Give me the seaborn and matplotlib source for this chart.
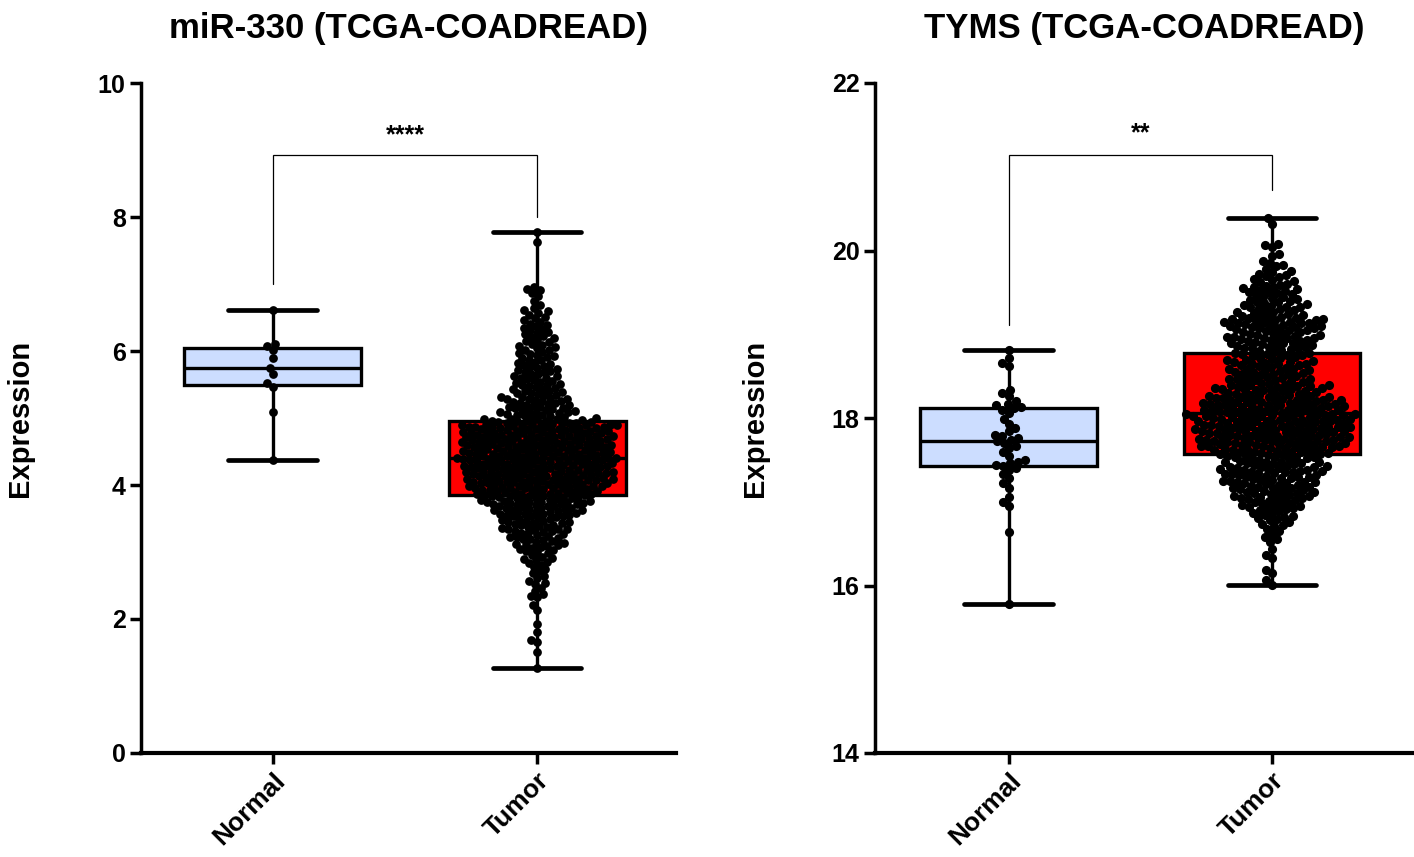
import matplotlib
matplotlib.use("Agg")
import matplotlib.pyplot as plt
import numpy as np
import pandas as pd
import seaborn as sns

groups = ["Normal", "Tumor"]
titles = ["miR-330 (TCGA-COADREAD)", "TYMS (TCGA-COADREAD)"]
ylabel_text = "Expression"
sig_labels = ["****", "**"]
mir_yticks = [0, 2, 4, 6, 8, 10]
tyms_yticks = [14, 16, 18, 20, 22]
# bracket: left leg bottom, bar height, right leg bottom, star baseline
mir_bracket = [7.0, 8.93, 8.0, 9.12]
tyms_bracket = [19.11, 21.14, 20.72, 21.31]

mir_normal = [6.61, 6.11, 6.08, 6.02, 5.89, 5.74, 5.65, 5.52, 5.46, 5.09, 4.37]

mir_tumor = [
    7.77, 7.62,
    6.95, 6.93, 6.91, 6.86, 6.82, 6.74,
    6.68, 6.64, 6.61, 6.59, 6.57, 6.54, 6.51,
    6.49, 6.46, 6.44, 6.41, 6.39, 6.37, 6.35, 6.33, 6.31,
    6.29, 6.27, 6.25, 6.23, 6.21, 6.19, 6.17, 6.15, 6.13, 6.11,
    6.09, 6.07, 6.06, 6.04, 6.02, 6.01, 5.99, 5.97, 5.96, 5.94, 5.92, 5.91,
    5.89, 5.87, 5.86, 5.84, 5.82, 5.81, 5.79, 5.78, 5.76, 5.75, 5.73, 5.72, 5.70,
    5.69, 5.68, 5.66, 5.65, 5.63, 5.62, 5.60,
    5.59, 5.58, 5.57, 5.55, 5.54, 5.52, 5.51, 5.50,
    5.49, 5.48, 5.47, 5.45, 5.44, 5.43, 5.41, 5.40,
    5.39, 5.38, 5.37, 5.36, 5.35, 5.34, 5.32, 5.31, 5.30,
    5.29, 5.29, 5.28, 5.27, 5.26, 5.25, 5.24, 5.23, 5.22, 5.21, 5.20,
    5.19, 5.18, 5.17, 5.16, 5.15, 5.15, 5.14, 5.13, 5.12, 5.11, 5.10,
    5.09, 5.09, 5.08, 5.07, 5.06, 5.05, 5.04, 5.04, 5.03, 5.02, 5.01, 5.00,
    4.99, 4.99, 4.98, 4.98, 4.97, 4.96, 4.96, 4.95, 4.95, 4.94,
    4.94, 4.93, 4.93, 4.92, 4.92, 4.91, 4.91, 4.90, 4.90, 4.90,
    4.89, 4.89, 4.89, 4.88, 4.88, 4.87, 4.87, 4.87, 4.86, 4.86, 4.85, 4.85,
    4.85, 4.84, 4.84, 4.83, 4.83, 4.83, 4.82, 4.82, 4.81, 4.81, 4.80, 4.80,
    4.79, 4.79, 4.79, 4.78, 4.78, 4.77, 4.77, 4.77, 4.76, 4.76, 4.75, 4.75, 4.75,
    4.74, 4.74, 4.73, 4.73, 4.73, 4.72, 4.72, 4.71, 4.71, 4.71, 4.70, 4.70,
    4.69, 4.69, 4.69, 4.68, 4.68, 4.67, 4.67, 4.67, 4.66, 4.66, 4.65, 4.65, 4.65,
    4.64, 4.64, 4.63, 4.63, 4.63, 4.62, 4.62, 4.61, 4.61, 4.61, 4.60, 4.60,
    4.59, 4.59, 4.59, 4.58, 4.58, 4.57, 4.57, 4.57, 4.56, 4.56, 4.55, 4.55, 4.55,
    4.54, 4.54, 4.53, 4.53, 4.53, 4.52, 4.52, 4.51, 4.51, 4.51, 4.50, 4.50,
    4.49, 4.49, 4.49, 4.48, 4.48, 4.47, 4.47, 4.47, 4.46, 4.46, 4.45, 4.45, 4.45,
    4.44, 4.44, 4.43, 4.43, 4.43, 4.42, 4.42, 4.41, 4.41, 4.41, 4.40, 4.40,
    4.39, 4.39, 4.39, 4.38, 4.38, 4.37, 4.37, 4.37, 4.36, 4.36, 4.35, 4.35, 4.35,
    4.34, 4.34, 4.33, 4.33, 4.33, 4.32, 4.32, 4.31, 4.31, 4.31, 4.30, 4.30,
    4.29, 4.29, 4.29, 4.28, 4.28, 4.27, 4.27, 4.27, 4.26, 4.26, 4.25, 4.25,
    4.25, 4.24, 4.24, 4.23, 4.23, 4.23, 4.22, 4.22, 4.21, 4.21, 4.20, 4.20,
    4.19, 4.19, 4.19, 4.18, 4.18, 4.17, 4.17, 4.17, 4.16, 4.16, 4.15, 4.15,
    4.15, 4.14, 4.14, 4.13, 4.13, 4.13, 4.12, 4.12, 4.11, 4.11, 4.10, 4.10,
    4.09, 4.09, 4.09, 4.08, 4.08, 4.07, 4.07, 4.07, 4.06, 4.06, 4.05, 4.05,
    4.05, 4.04, 4.04, 4.03, 4.03, 4.03, 4.02, 4.02, 4.01, 4.01, 4.00, 4.00,
    3.99, 3.99, 3.98, 3.98, 3.98, 3.97, 3.97, 3.96, 3.96, 3.95, 3.95,
    3.95, 3.94, 3.94, 3.93, 3.93, 3.92, 3.92, 3.91, 3.91, 3.90, 3.90,
    3.89, 3.89, 3.88, 3.88, 3.87, 3.87, 3.86, 3.86, 3.85, 3.85,
    3.84, 3.84, 3.83, 3.83, 3.82, 3.82, 3.81, 3.81, 3.80, 3.80,
    3.79, 3.78, 3.78, 3.77, 3.76, 3.76, 3.75, 3.75, 3.74, 3.74,
    3.73, 3.73, 3.72, 3.72, 3.71, 3.70, 3.70,
    3.69, 3.68, 3.68, 3.67, 3.66, 3.66, 3.65, 3.64, 3.64, 3.63,
    3.62, 3.62, 3.61, 3.60, 3.60,
    3.59, 3.58, 3.57, 3.57, 3.56, 3.55, 3.55, 3.54, 3.53, 3.53, 3.52, 3.51, 3.50,
    3.49, 3.48, 3.47, 3.46, 3.45, 3.45, 3.44, 3.43, 3.42, 3.41, 3.40,
    3.39, 3.38, 3.37, 3.36, 3.35, 3.35, 3.34, 3.33, 3.32, 3.31, 3.30,
    3.29, 3.28, 3.27, 3.25, 3.24, 3.23, 3.22, 3.21, 3.20,
    3.19, 3.18, 3.16, 3.15, 3.13, 3.12, 3.11, 3.10,
    3.09, 3.08, 3.06, 3.04, 3.03, 3.01, 3.00,
    2.98, 2.95, 2.93, 2.91, 2.90, 2.88, 2.85, 2.83, 2.81,
    2.78, 2.74, 2.71, 2.68, 2.64, 2.61, 2.57, 2.54, 2.52,
    2.47, 2.42, 2.37, 2.35, 2.33, 2.21, 2.14,
    1.93, 1.81, 1.69, 1.66, 1.51, 1.27,
]

tyms_normal = [
    15.78, 16.64, 16.95, 17.00, 17.06, 17.17, 17.22, 17.28, 17.33, 17.38,
    17.40, 17.43, 17.44, 17.46, 17.48, 17.50, 17.55, 17.60, 17.64, 17.67,
    17.70, 17.72, 17.74, 17.76, 17.78, 17.80, 17.84, 17.88, 17.93, 17.99,
    18.06, 18.10, 18.12, 18.13, 18.15, 18.17, 18.20, 18.26, 18.30, 18.34,
    18.62, 18.66, 18.72, 18.81,
]

tyms_tumor = [
    20.39, 20.32, 20.08, 20.06, 20.04, 19.96, 19.93,
    19.88, 19.85, 19.83, 19.81, 19.78, 19.76, 19.74, 19.72, 19.71,
    19.69, 19.68, 19.66, 19.65, 19.63, 19.62, 19.60,
    19.59, 19.58, 19.57, 19.56, 19.55, 19.54, 19.53, 19.52, 19.51, 19.50,
    19.49, 19.48, 19.47, 19.45, 19.44, 19.43, 19.42, 19.41, 19.40,
    19.39, 19.38, 19.37, 19.36, 19.35, 19.34, 19.33, 19.33, 19.32, 19.31, 19.30,
    19.29, 19.28, 19.27, 19.26, 19.25, 19.24, 19.23, 19.22, 19.22, 19.21, 19.20,
    19.19, 19.19, 19.18, 19.18, 19.17, 19.17, 19.16, 19.15, 19.15,
    19.14, 19.14, 19.13, 19.13, 19.12, 19.11, 19.11, 19.10, 19.10,
    19.09, 19.09, 19.08, 19.07, 19.07, 19.06, 19.05, 19.05, 19.04, 19.03, 19.03, 19.02, 19.01, 19.00,
    18.99, 18.99, 18.98, 18.97, 18.97, 18.96, 18.96, 18.95, 18.95, 18.94, 18.93, 18.93, 18.92, 18.92, 18.91, 18.90,
    18.89, 18.89, 18.88, 18.87, 18.87, 18.86, 18.85, 18.85, 18.84, 18.83, 18.83, 18.82, 18.81, 18.80,
    18.79, 18.78, 18.78, 18.77, 18.76, 18.75, 18.75, 18.74, 18.73, 18.72, 18.72, 18.71,
    18.69, 18.69, 18.68, 18.67, 18.67, 18.66, 18.65, 18.65, 18.64, 18.63, 18.63, 18.62, 18.61, 18.60,
    18.59, 18.59, 18.58, 18.57, 18.57, 18.56, 18.55, 18.55, 18.54, 18.53, 18.53, 18.52, 18.51, 18.50,
    18.49, 18.49, 18.48, 18.47, 18.47, 18.46, 18.45, 18.45, 18.44, 18.43, 18.43, 18.42, 18.41, 18.40, 18.40,
    18.39, 18.39, 18.38, 18.38, 18.37, 18.37, 18.36, 18.36, 18.35, 18.35,
    18.34, 18.34, 18.33, 18.33, 18.32, 18.32, 18.31, 18.30,
    18.29, 18.29, 18.28, 18.28, 18.27, 18.27, 18.26, 18.26, 18.25, 18.25, 18.25,
    18.24, 18.24, 18.23, 18.23, 18.22, 18.22, 18.22, 18.21, 18.21, 18.20, 18.20,
    18.19, 18.19, 18.19, 18.18, 18.18, 18.17, 18.17, 18.17, 18.16, 18.16, 18.15, 18.15, 18.15,
    18.14, 18.14, 18.13, 18.13, 18.13, 18.12, 18.12, 18.11, 18.11, 18.11, 18.10, 18.10,
    18.09, 18.09, 18.09, 18.08, 18.08, 18.07, 18.07, 18.07, 18.06, 18.06, 18.05, 18.05, 18.05, 18.05,
    18.04, 18.04, 18.03, 18.03, 18.03, 18.02, 18.02, 18.02, 18.01, 18.01, 18.01, 18.00, 18.00,
    17.99, 17.99, 17.99, 17.98, 17.98, 17.98, 17.97, 17.97, 17.97, 17.96, 17.96, 17.96, 17.95, 17.95,
    17.94, 17.94, 17.94, 17.93, 17.93, 17.92, 17.92, 17.92, 17.91, 17.91, 17.90, 17.90, 17.90,
    17.89, 17.89, 17.89, 17.88, 17.88, 17.88, 17.87, 17.87, 17.87, 17.86, 17.86, 17.86, 17.85, 17.85,
    17.84, 17.84, 17.84, 17.83, 17.83, 17.82, 17.82, 17.82, 17.81, 17.81, 17.80, 17.80, 17.80,
    17.79, 17.79, 17.79, 17.78, 17.78, 17.77, 17.77, 17.77, 17.76, 17.76, 17.75, 17.75, 17.75,
    17.74, 17.74, 17.74, 17.73, 17.73, 17.72, 17.72, 17.72, 17.71, 17.71, 17.70, 17.70, 17.70,
    17.69, 17.69, 17.69, 17.68, 17.68, 17.67, 17.67, 17.67, 17.66, 17.66, 17.65, 17.65,
    17.65, 17.64, 17.64, 17.63, 17.63, 17.63, 17.62, 17.62, 17.61, 17.61, 17.60, 17.60,
    17.59, 17.59, 17.58, 17.58, 17.57, 17.57, 17.56, 17.56, 17.55, 17.55,
    17.54, 17.54, 17.53, 17.53, 17.52, 17.52, 17.51, 17.50,
    17.49, 17.48, 17.48, 17.47, 17.47, 17.46, 17.46, 17.45, 17.45,
    17.44, 17.43, 17.43, 17.42, 17.42, 17.41, 17.40, 17.40,
    17.39, 17.39, 17.38, 17.38, 17.37, 17.37, 17.36, 17.36, 17.35,
    17.34, 17.34, 17.33, 17.33, 17.32, 17.32, 17.31, 17.30, 17.30,
    17.29, 17.28, 17.28, 17.27, 17.26, 17.26, 17.25, 17.25,
    17.24, 17.23, 17.23, 17.22, 17.22, 17.21, 17.20, 17.20,
    17.19, 17.18, 17.18, 17.17, 17.16, 17.16, 17.15, 17.14, 17.14,
    17.13, 17.12, 17.12, 17.11, 17.10, 17.10,
    17.09, 17.08, 17.07, 17.07, 17.06, 17.05, 17.05, 17.04, 17.03, 17.03, 17.02, 17.01, 17.00,
    16.99, 16.98, 16.97, 16.96, 16.95, 16.95, 16.94, 16.93, 16.92, 16.91, 16.90,
    16.89, 16.87, 16.86, 16.84, 16.83, 16.82, 16.81, 16.80,
    16.78, 16.76, 16.74, 16.72, 16.71, 16.68, 16.65, 16.62, 16.58, 16.55, 16.52,
    16.44, 16.37, 16.33, 16.19, 16.15, 16.06, 16.01,
]

normal_color = "#CCDDFF"
tumor_color = "#FF0000"

sns.set_theme(style="ticks")
plt.rcParams["font.family"] = ["Liberation Sans", "DejaVu Sans"]
plt.rcParams.update({
    "text.color": "black", "axes.labelcolor": "black", "axes.edgecolor": "black",
    "xtick.color": "black", "ytick.color": "black",
})

W, H = 1414, 857
fig = plt.figure(figsize=(W / 100, H / 100), dpi=100)
ax1 = fig.add_axes([141 / W, 104 / H, 535 / W, 670 / H])
ax2 = fig.add_axes([875 / W, 104 / H, 538 / W, 670 / H])


def panel(ax, normal, tumor, yticks, title, sig, br, xlim, ylab_x, layout_size):
    df = pd.DataFrame({
        "group": [groups[0]] * len(normal) + [groups[1]] * len(tumor),
        "value": list(normal) + list(tumor),
    })
    sns.boxplot(data=df, x="group", y="value", hue="group", order=groups,
                hue_order=groups, palette={groups[0]: normal_color, groups[1]: tumor_color},
                saturation=1, width=0.67, whis=(0, 100), showfliers=False,
                linewidth=2.4, linecolor="black", legend=False, ax=ax,
                capprops={"linewidth": 3.4})
    sns.swarmplot(data=df, x="group", y="value", order=groups, color="black",
                  size=layout_size, linewidth=0, zorder=3, ax=ax, warn_thresh=1)
    ax.set_ylim(yticks[0], yticks[-1])
    ax.set_xlim(*xlim)
    ax.set_yticks(yticks)
    ax.set_yticklabels([str(t) for t in yticks], fontweight="bold", fontsize=18)
    ax.set_xticks([0, 1])
    ax.set_xticklabels(groups, rotation=45, ha="right", rotation_mode="anchor",
                       fontweight="bold", fontsize=19)
    ax.set_xlabel("")
    ax.set_ylabel(ylabel_text, fontweight="bold", fontsize=21)
    ax.yaxis.set_label_coords(ylab_x, 0.5)
    for s in ["top", "right"]:
        ax.spines[s].set_visible(False)
    ax.spines["left"].set_linewidth(2.5)
    ax.spines["bottom"].set_linewidth(3.0)
    ax.tick_params(axis="both", direction="out", length=8, width=2.5, colors="black", pad=3)
    ax.plot([0, 0, 1, 1], [br[0], br[1], br[1], br[2]], color="black", lw=0.9,
            solid_joinstyle="miter", clip_on=False)
    ax.text(0.5, br[3], sig, ha="center", va="baseline", fontsize=18, fontweight="bold")
    ax.text(0.5, 1 + 55 / 670, title, transform=ax.transAxes, ha="center", va="center",
            fontsize=25, fontweight="bold")


panel(ax1, mir_normal, mir_tumor, mir_yticks, titles[0], sig_labels[0], mir_bracket,
      (-0.498, 1.525), -107 / 535, 4.6)
panel(ax2, tyms_normal, tyms_tumor, tyms_yticks, titles[1], sig_labels[1], tyms_bracket,
      (-0.507, 1.535), -106 / 538, 5.0)

# lay out the swarms once, then keep those positions and draw the dots a little
# larger so that neighbouring dots overlap as in the original figure
fig.canvas.draw()
for ax, shown in ((ax1, 6.3), (ax2, 6.6)):
    for coll in ax.collections:
        if "draw" in coll.__dict__:
            del coll.draw
            coll.set_sizes([shown ** 2])

fig.savefig("out.png", dpi=100)
